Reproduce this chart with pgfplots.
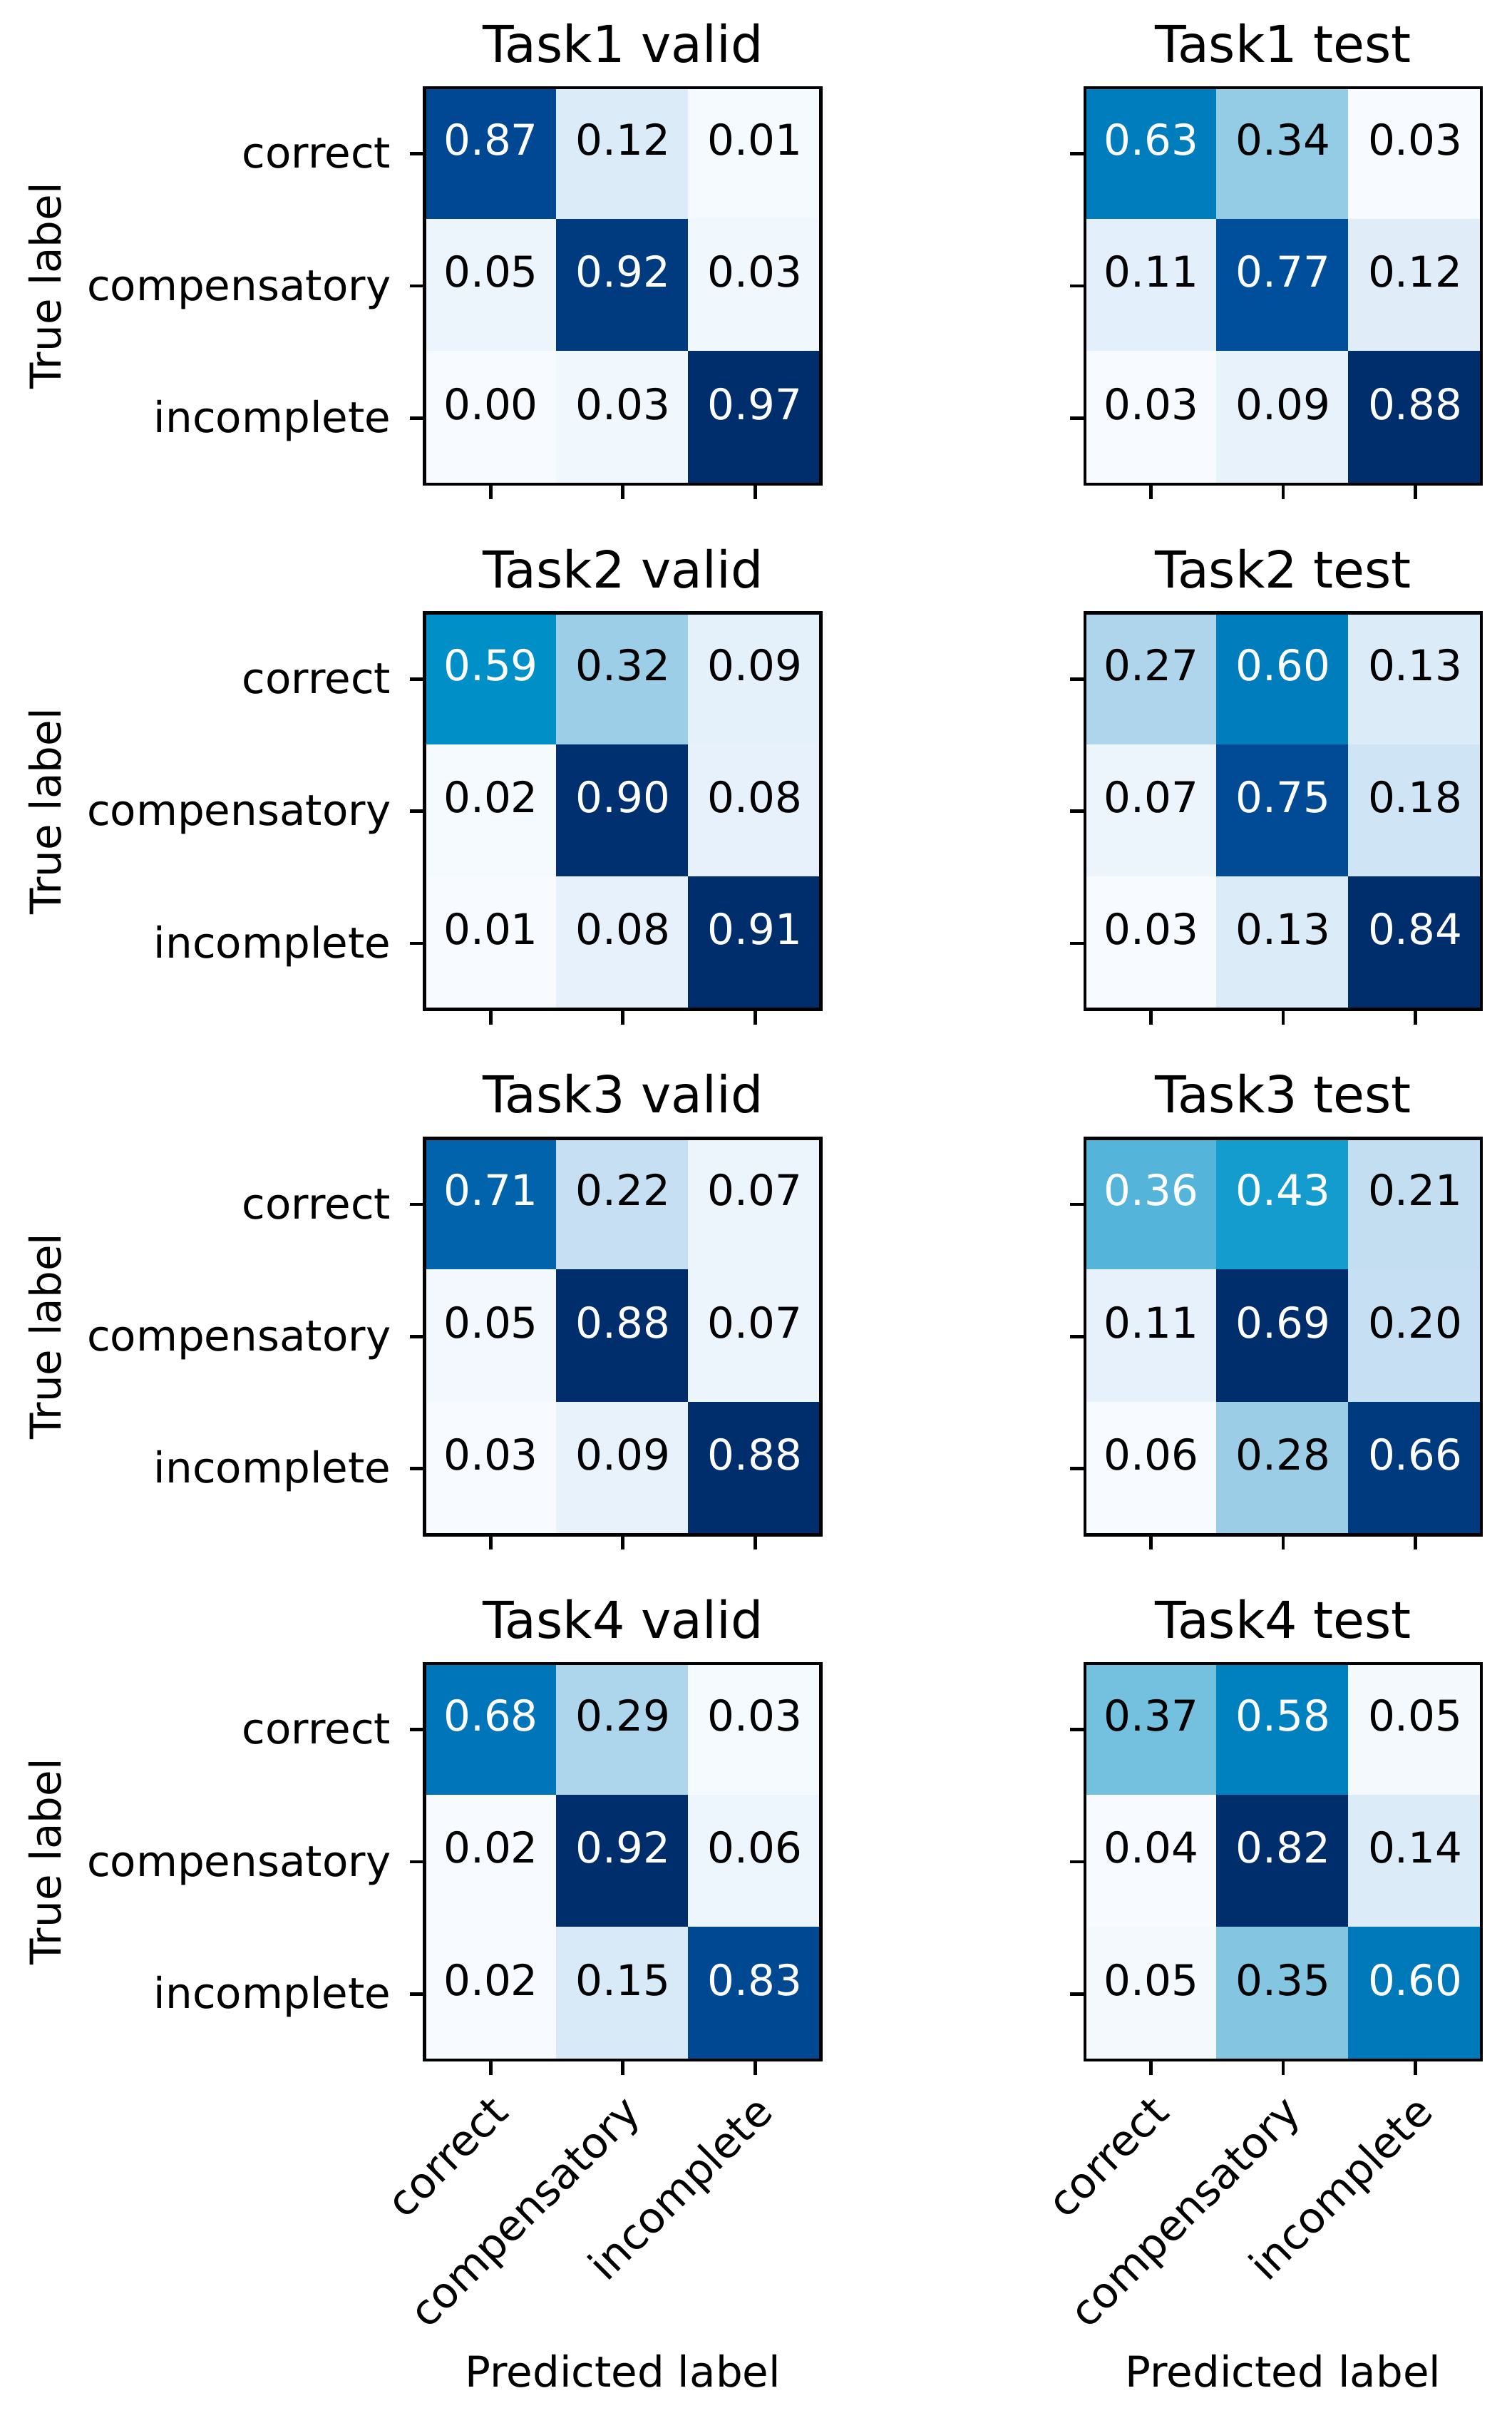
\documentclass[border=0pt]{standalone}
\usepackage{fontspec}
\setmainfont{DejaVu Sans}
\usepackage{pgfplots}
\usepackage{pgfplotstable}
\pgfplotsset{compat=1.18}

% "Blues", a little more saturated, as the reference shows it
\pgfplotsset{
  colormap={blues}{rgb255=(247,251,255) rgb255=(220,235,248) rgb255=(192,220,240)
    rgb255=(145,202,228) rgb255=(70,175,216) rgb255=(0,148,202)
    rgb255=(0,112,182) rgb255=(0,78,155) rgb255=(0,45,108)},
  cm/.style={
    scale only axis, width=93.4pt, height=93.4pt,
    xmin=-0.5, xmax=2.5, ymin=-0.5, ymax=2.5,
    y dir=reverse, enlargelimits=false,
    xtick={0,1,2}, ytick={0,1,2},
    xticklabels={,,}, yticklabels={,,},
    tick align=outside, tick pos=left,
    major tick length=3.5pt,
    every tick/.style={black, line width=0.8pt},
    axis line style={line width=0.8pt},
    axis on top,
    colormap name=blues,
    every axis title/.style={at={(axis description cs:0.5,1)}, anchor=base,
      yshift=6pt, inner sep=0pt, font=\fontsize{12}{14.4}\selectfont},
    yticklabel style={anchor=base east, inner sep=0pt, xshift=-4.3pt, yshift=-3.4pt},
    xticklabel style={xshift=-0.7pt, yshift=-3.8pt, rotate=45, anchor=north east,
      inner sep=0pt, text height=0.76em, text depth=0.24em},
  },
  leftcol/.style={
    yticklabels={correct,compensatory,incomplete},
    ylabel={True label},
    every axis y label/.style={at={(axis description cs:-0.9176,0.5)}, rotate=90, anchor=base},
  },
  bottomrow/.style={
    xticklabels={correct,compensatory,incomplete},
    xlabel={Predicted label},
    every axis x label/.style={at={(axis description cs:0.5,-0.8255)}, anchor=base},
  },
  celltext/.style={draw=none, point meta=explicit symbolic,
    nodes near coords, nodes near coords align=center,
    every node near coord/.append style={text=#1, inner sep=0pt,
      text height=0.73em, text depth=0pt, yshift=3.35pt}},
}

% w = 1: value printed in white, w = 0: in black
\newcommand{\cmplot}[1]{%
  \addplot[matrix plot*, mesh/cols=3, point meta=explicit] table[meta=v] {#1};
  \addplot[celltext=white, restrict expr to domain={\thisrow{w}}{0.5:1.5}] table[meta=v] {#1};
  \addplot[celltext=black, restrict expr to domain={\thisrow{w}}{-0.5:0.5}] table[meta=v] {#1};
}

% Task1
\pgfplotstableread{
x y v w
0 0 0.87 1
1 0 0.12 0
2 0 0.01 0
0 1 0.05 0
1 1 0.92 1
2 1 0.03 0
0 2 0.00 0
1 2 0.03 0
2 2 0.97 1
}\tAv
\pgfplotstableread{
x y v w
0 0 0.63 1
1 0 0.34 0
2 0 0.03 0
0 1 0.11 0
1 1 0.77 1
2 1 0.12 0
0 2 0.03 0
1 2 0.09 0
2 2 0.88 1
}\tAt
% Task2
\pgfplotstableread{
x y v w
0 0 0.59 1
1 0 0.32 0
2 0 0.09 0
0 1 0.02 0
1 1 0.90 1
2 1 0.08 0
0 2 0.01 0
1 2 0.08 0
2 2 0.91 1
}\tBv
\pgfplotstableread{
x y v w
0 0 0.27 0
1 0 0.60 1
2 0 0.13 0
0 1 0.07 0
1 1 0.75 1
2 1 0.18 0
0 2 0.03 0
1 2 0.13 0
2 2 0.84 1
}\tBt
% Task3
\pgfplotstableread{
x y v w
0 0 0.71 1
1 0 0.22 0
2 0 0.07 0
0 1 0.05 0
1 1 0.88 1
2 1 0.07 0
0 2 0.03 0
1 2 0.09 0
2 2 0.88 1
}\tCv
\pgfplotstableread{
x y v w
0 0 0.36 1
1 0 0.43 1
2 0 0.21 0
0 1 0.11 0
1 1 0.69 1
2 1 0.20 0
0 2 0.06 0
1 2 0.28 0
2 2 0.66 1
}\tCt
% Task4
\pgfplotstableread{
x y v w
0 0 0.68 1
1 0 0.29 0
2 0 0.03 0
0 1 0.02 0
1 1 0.92 1
2 1 0.06 0
0 2 0.02 0
1 2 0.15 0
2 2 0.83 1
}\tDv
\pgfplotstableread{
x y v w
0 0 0.37 0
1 0 0.58 1
2 0 0.05 0
0 1 0.04 0
1 1 0.82 1
2 1 0.14 0
0 2 0.05 0
1 2 0.35 0
2 2 0.60 1
}\tDt

\begin{document}
\begin{tikzpicture}
\useasboundingbox (0,0) rectangle (356.3pt,-569.7pt);

\begin{axis}[cm, leftcol, at={(100.1pt,-114.07pt)}, anchor=south west, title={Task1 valid}]
\cmplot{\tAv}
\end{axis}
\begin{axis}[cm, at={(255.7pt,-114.07pt)}, anchor=south west, title={Task1 test}]
\cmplot{\tAt}
\end{axis}

\begin{axis}[cm, leftcol, at={(100.1pt,-237.84pt)}, anchor=south west, title={Task2 valid}]
\cmplot{\tBv}
\end{axis}
\begin{axis}[cm, at={(255.7pt,-237.84pt)}, anchor=south west, title={Task2 test}]
\cmplot{\tBt}
\end{axis}

\begin{axis}[cm, leftcol, at={(100.1pt,-361.59pt)}, anchor=south west, title={Task3 valid}]
\cmplot{\tCv}
\end{axis}
\begin{axis}[cm, at={(255.7pt,-361.59pt)}, anchor=south west, title={Task3 test}]
\cmplot{\tCt}
\end{axis}

\begin{axis}[cm, leftcol, bottomrow, at={(100.1pt,-485.35pt)}, anchor=south west, title={Task4 valid}]
\cmplot{\tDv}
\end{axis}
\begin{axis}[cm, bottomrow, at={(255.7pt,-485.35pt)}, anchor=south west, title={Task4 test}]
\cmplot{\tDt}
\end{axis}
\end{tikzpicture}
\end{document}
